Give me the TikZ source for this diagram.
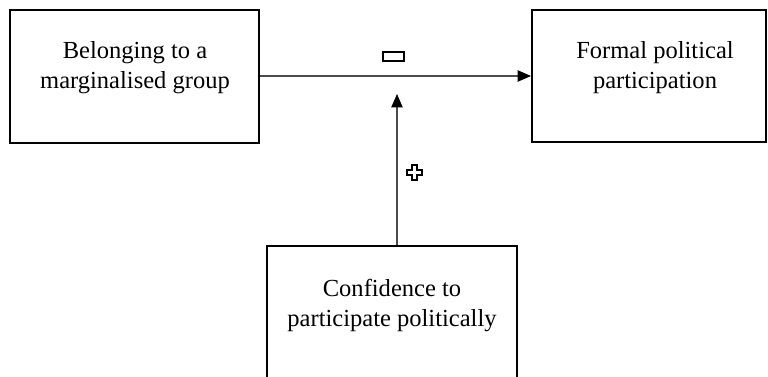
\documentclass[tikz,border=0pt]{standalone}
\usepackage{fontspec}
\setmainfont{Liberation Serif}
\usetikzlibrary{arrows.meta}
\begin{document}
\begin{tikzpicture}[x=0.75pt, y=-0.75pt,
  box/.style = {draw, line width=1.5pt, inner sep=0pt},
  txt/.style = {align=center, inner sep=0pt, font=\fontsize{18.4}{22.5}\selectfont},
  conn/.style = {-{Triangle[length=10pt,width=8.5pt,color=black]}, line width=0.8pt, black!70},
  sign/.style = {line width=1.5pt}]
\useasboundingbox (0,0) rectangle (768,376);
\node[box, minimum width=186.75pt, minimum height=99.75pt](belong) at (134.5,76) {}; \node[box, minimum width=175.5pt, minimum height=99pt](formal) at (649,76) {};
\node[box, minimum width=187.5pt, minimum height=105pt](conf) at (392,316) {};
\node[txt](belongtxt) at (135,68) {Belonging to a\\marginalised group}; \node[txt](formaltxt) at (655,68) {Formal political\\participation};
\node[txt](conftxt) at (392,306) {Confidence to\\participate politically};
\coordinate (mod) at (397,94);
\draw[conn] (belong.east) -- (formal.west); \draw[conn] (conf.north -| mod) -- (mod);
\draw[sign] (383,52) rectangle (404,61);
\draw[sign] (411.5,164.5) -- (416.5,164.5) -- (416.5,169.5) -- (421.5,169.5) -- (421.5,174.5) -- (416.5,174.5) -- (416.5,179.5) -- (411.5,179.5) -- (411.5,174.5) -- (406.5,174.5) -- (406.5,169.5) -- (411.5,169.5) -- cycle;
\end{tikzpicture}
\end{document}
